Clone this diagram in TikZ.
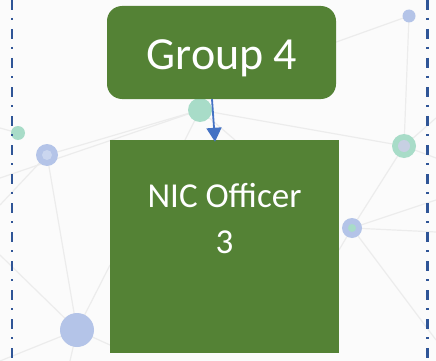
\documentclass[tikz,border=0pt]{standalone}
\usepackage{fontspec}
\setmainfont{Carlito}
\usetikzlibrary{arrows.meta}
\definecolor{boxgreen}{HTML}{548235}
\definecolor{arrowblue}{HTML}{4472C4}
\definecolor{dashblue}{HTML}{2F5597}
\definecolor{netline}{HTML}{ECECEC}
\definecolor{netblue}{HTML}{B4C4E8}
\definecolor{netgreen}{HTML}{A8DCC8}
\tikzset{
  greenbox/.style={fill=boxgreen, draw=none, text=white, inner sep=0pt},
  boxtext/.style={text=white, inner sep=0pt, anchor=base},
  conn/.style={draw=arrowblue, line width=1.8pt, -{Triangle[width=15pt,length=14pt]}},
  border/.style={draw=dashblue, line width=2.3pt, dash pattern=on 10pt off 8pt on 2pt off 9pt},
  net/.style={draw=netline, line width=1.2pt},
}
\begin{document}
\begin{tikzpicture}[x=1pt,y=-1pt]
\useasboundingbox (0,0) rectangle (436,361);
\fill[white!97!gray] (0,0) rectangle (436,361);
% background network
\coordinate (n1) at (409,16);
\coordinate (n2) at (200,110);
\coordinate (n3) at (18,133);
\coordinate (n4) at (47,155);
\coordinate (n5) at (404,146);
\coordinate (n6) at (352,228);
\coordinate (n7) at (77,330);
\draw[net] (n1) -- (300,55);
\draw[net] (n1) -- (n5);
\draw[net] (n5) -- (436,118);
\draw[net] (n5) -- (436,158);
\draw[net] (n5) -- (n6);
\draw[net] (n2) -- (n5);
\draw[net] (n2) -- (n4);
\draw[net] (n2) -- (0,178);
\draw[net] (n2) -- (185,140);
\draw[net] (n2) -- (235,140);
\draw[net] (n6) -- (436,200);
\draw[net] (n6) -- (436,232);
\draw[net] (n6) -- (436,340);
\draw[net] (n6) -- (339,250);
\draw[net] (n4) -- (0,205);
\draw[net] (n4) -- (n7);
\draw[net] (n7) -- (0,255);
\draw[net] (n7) -- (110,265);
\draw[net] (n7) -- (0,361);
\draw[net] (n7) -- (110,345);
\draw[net] (n7) -- (70,361);
\draw[net] (n3) -- (0,128);
\fill[netblue] (n1) circle (6.5);
\fill[netgreen] (n2) circle (12);
\fill[netgreen] (n3) circle (7);
\fill[netblue] (n4) circle (11);
\fill[netblue!70!white] (n4) circle (5);
\fill[netgreen] (n5) circle (12);
\fill[netblue!90!black!60!white] (n5) circle (6);
\fill[netblue] (n6) circle (10);
\fill[netgreen] (n6) circle (4);
\fill[netblue] (n7) circle (17);
% dash-dot borders
\coordinate (lt) at (12.3,0);
\coordinate (lb) at (12.3,361);
\coordinate (rt) at (427.5,0);
\coordinate (rb) at (427.5,361);
\draw[border] (lt) -- (lb);
\draw[border] (rt) -- (rb);
% boxes
\node[greenbox, rounded corners=15pt, minimum width=229pt, minimum height=93pt] (group) at (221.5,52.5) {};
\node[boxtext, font=\fontsize{46}{46}\selectfont] (grouptext) at (222,70) {Group 4};
\node[greenbox, minimum width=229pt, minimum height=213pt] (nic) at (224.5,246.5) {};
\node[boxtext, font=\fontsize{35}{35}\selectfont] (nictext1) at (224.5,207) {NIC Officer};
\node[boxtext, font=\fontsize{35}{35}\selectfont] (nictext2) at (224.5,253) {3};
% connector
\draw[conn] ([xshift=-9.5pt]group.south) -- ([xshift=-9.5pt,yshift=-2pt]nic.north);
\end{tikzpicture}
\end{document}
